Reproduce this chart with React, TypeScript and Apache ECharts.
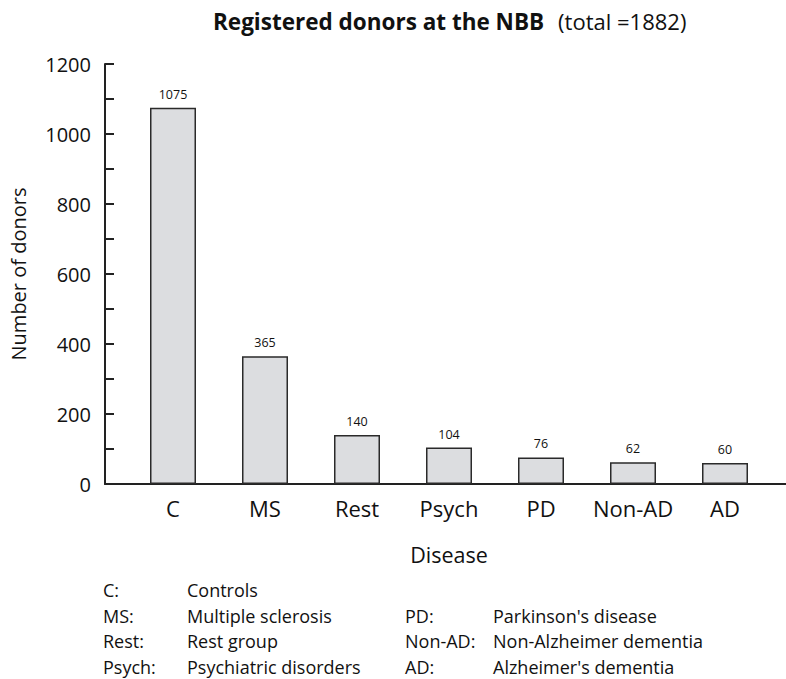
import React, { useEffect, useRef } from "react";
import * as echarts from "echarts";

const categories = ["C", "MS", "Rest", "Psych", "PD", "Non-AD", "AD"];
const donors = [1075, 365, 140, 104, 76, 62, 60];
const yTicks = { min: 0, max: 1200, interval: 200 };
const legendLeftKeys = ["C:", "MS:", "Rest:", "Psych:"];
const legendLeftNames = ["Controls", "Multiple sclerosis", "Rest group", "Psychiatric disorders"];
const legendRightKeys = ["", "PD:", "Non-AD:", "AD:"];
const legendRightNames = ["", "Parkinson's disease", "Non-Alzheimer dementia", "Alzheimer's dementia"];

const FONT = "'Open Sans', 'Noto Sans', sans-serif";

export default function App() {
  const ref = useRef<HTMLDivElement>(null);
  useEffect(() => {
    document.body.style.margin = "0";
    const chart = echarts.init(ref.current!, null, { renderer: "svg" });
    const rowY = [590, 616, 641, 667];
    const legend: any[] = [];
    rowY.forEach((y, i) => {
      const items: [string, number][] = [
        [legendLeftKeys[i], 103],
        [legendLeftNames[i], 187],
        [legendRightKeys[i], 405],
        [legendRightNames[i], 493],
      ];
      items.forEach(([t, x]) => {
        if (!t) return;
        legend.push({
          type: "text",
          x,
          y,
          style: { text: t, fontSize: 18, fontFamily: FONT, fill: "#111", verticalAlign: "middle" },
        });
      });
    });
    chart.setOption({
      animation: false,
      textStyle: { fontFamily: FONT, color: "#111" },
      title: {
        left: 213,
        top: 8,
        padding: 0,
        text: "{b|Registered donors at the NBB}{n|(total =1882)}",
        textStyle: {
          rich: {
            b: { fontSize: 22.5, fontWeight: "bold", fontFamily: FONT, color: "#111", lineHeight: 26 },
            n: { fontSize: 22, fontWeight: "normal", fontFamily: FONT, color: "#111", lineHeight: 26, padding: [0, 0, 0, 14] },
          },
        },
      },
      grid: [
        { left: 127, right: 15, top: 64, bottom: 195 },
        { left: 104, right: 0, top: 64, bottom: 195 },
      ],
      xAxis: [
        {
          type: "category",
          gridIndex: 0,
          data: categories,
          axisLine: { show: false },
          axisTick: { show: false },
          axisLabel: { interval: 0, fontSize: 22, margin: 13, color: "#111", fontFamily: FONT },
          name: "Disease",
          nameLocation: "middle",
          nameGap: 59,
          nameTextStyle: { fontSize: 21.5, color: "#111", fontFamily: FONT },
        },
        {
          type: "value",
          gridIndex: 1,
          min: 0,
          max: 1,
          axisLine: { show: true, lineStyle: { color: "#222", width: 2 } },
          axisTick: { show: false },
          axisLabel: { show: false },
          splitLine: { show: false },
        },
      ],
      yAxis: [
        {
          type: "value",
          gridIndex: 0,
          min: yTicks.min,
          max: yTicks.max,
          interval: yTicks.interval,
          show: false,
          splitLine: { show: false },
        },
        {
          type: "value",
          gridIndex: 1,
          min: yTicks.min,
          max: yTicks.max,
          interval: yTicks.interval,
          axisLine: { show: true, lineStyle: { color: "#222", width: 2 } },
          axisTick: { show: true, inside: true, length: 9, lineStyle: { color: "#222", width: 2 } },
          minorTick: { show: true, splitNumber: 2, length: 9, lineStyle: { color: "#222", width: 2 } },
          axisLabel: { fontSize: 20, margin: 14, color: "#111", fontFamily: FONT, formatter: (v: number) => String(v) },
          splitLine: { show: false },
          name: "Number of donors",
          nameLocation: "middle",
          nameGap: 77,
          nameTextStyle: { fontSize: 20, color: "#111", fontFamily: FONT },
        },
      ],
      series: [
        {
          type: "bar",
          xAxisIndex: 0,
          yAxisIndex: 0,
          data: donors,
          barWidth: "50%",
          itemStyle: { color: "#dcdde0", borderColor: "#2a2a2a", borderWidth: 1.5 },
          label: { show: true, position: "top", distance: 7, fontSize: 12.5, color: "#111", fontFamily: FONT },
        },
      ],
      graphic: legend,
    });
    return () => chart.dispose();
  }, []);
  return <div ref={ref} style={{ width: 786, height: 679 }} />;
}
